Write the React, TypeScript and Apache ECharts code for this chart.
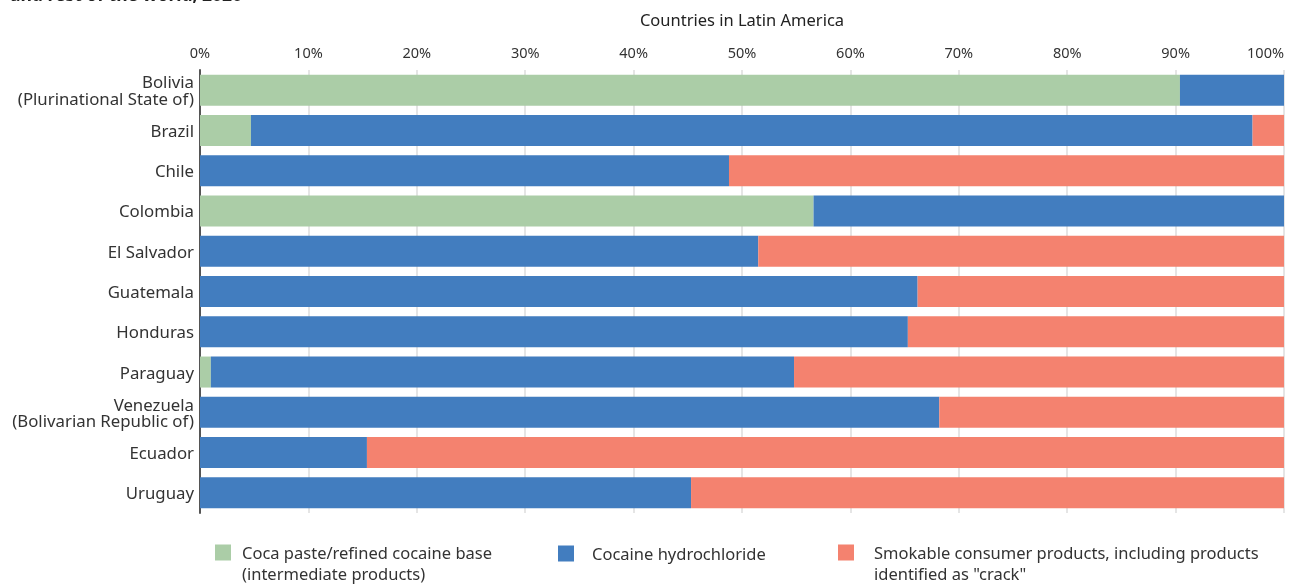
import React, { useEffect, useRef } from "react";
import * as echarts from "echarts";

const countries = [
  "Bolivia\n(Plurinational State of)",
  "Brazil",
  "Chile",
  "Colombia",
  "El Salvador",
  "Guatemala",
  "Honduras",
  "Paraguay",
  "Venezuela\n(Bolivarian Republic of)",
  "Ecuador",
  "Uruguay",
];
const cocaPaste = [90.4, 4.7, 0, 56.6, 0, 0, 0, 1.0, 0, 0, 0];
const cocaineHcl = [9.6, 92.4, 48.8, 43.4, 51.5, 66.2, 65.3, 53.8, 68.2, 15.4, 45.3];
const smokable = [0, 2.9, 51.2, 0, 48.5, 33.8, 34.7, 45.2, 31.8, 84.6, 54.7];
const seriesNames = [
  "Coca paste/refined cocaine base\n(intermediate products)",
  "Cocaine hydrochloride",
  "Smokable consumer products, including products\nidentified as \"crack\"",
];
const colors = ["#abcda7", "#427dbf", "#f4826f"];

const FONT = "'Noto Sans', sans-serif";
// square icon anchored to the first text line (for two-line legend texts)
const ICON2 = "path://M0,0H16V16H0Z M0,37H0.01V37.01H0Z";

export default function App() {
  const ref = useRef<HTMLDivElement>(null);
  useEffect(() => {
    const chart = echarts.init(ref.current!, undefined, { renderer: "svg" });
    const data = [cocaPaste, cocaineHcl, smokable];
    const legendLefts = [215, 558, 838];
    const legendPads = [6, 13, 15];
    const legendTops = [542, 543, 542];
    chart.setOption({
      animation: false,
      textStyle: { fontFamily: FONT },
      graphic: [
        {
          type: "text",
          left: 10,
          top: -15,
          style: {
            text: "and rest of the world, 2020",
            fontSize: 17.5,
            fontWeight: "bold",
            fill: "#222",
            fontFamily: FONT,
          },
        },
      ],
      legend: seriesNames.map((n, i) => {
        const twoLine = n.indexOf("\n") >= 0;
        return {
          data: [n],
          left: legendLefts[i],
          top: legendTops[i],
          itemWidth: 16,
          itemHeight: twoLine ? 37 : 16,
          itemGap: 10,
          icon: twoLine ? ICON2 : "rect",
          selectedMode: false,
          padding: 0,
          textStyle: {
            fontSize: 16.5,
            color: "#333",
            lineHeight: 21,
            fontFamily: FONT,
            padding: [0, 0, 0, legendPads[i]],
          },
        };
      }),
      grid: { left: 200, right: 11, top: 70, bottom: 72, outerBoundsMode: "none", containLabel: false },
      xAxis: {
        type: "value",
        position: "top",
        min: 0,
        max: 100,
        interval: 10,
        name: "Countries in Latin America",
        nameLocation: "middle",
        nameGap: 42,
        nameTextStyle: { fontSize: 16.5, color: "#222", fontFamily: FONT },
        axisLabel: {
          formatter: "{value}%",
          fontSize: 14.5,
          color: "#333",
          margin: 11,
          alignMaxLabel: "right",
          fontFamily: FONT,
        },
        axisLine: { show: false },
        axisTick: { show: false },
        splitLine: { lineStyle: { color: "#dddddd", width: 1.5 } },
      },
      yAxis: {
        type: "category",
        inverse: true,
        data: countries,
        axisLine: { show: true, lineStyle: { color: "#555", width: 2 } },
        axisTick: { show: false },
        axisLabel: {
          fontSize: 16.8,
          color: "#333",
          lineHeight: 16.5,
          margin: 6,
          fontFamily: FONT,
        },
      },
      series: seriesNames.map((n, i) => ({
        name: n,
        type: "bar",
        stack: "total",
        barCategoryGap: "23%",
        itemStyle: { color: colors[i] },
        data: data[i],
      })),
    });
    return () => chart.dispose();
  }, []);
  return (
    <div
      ref={ref}
      style={{ position: "fixed", left: 0, top: 0, width: 1295, height: 585 }}
    />
  );
}
